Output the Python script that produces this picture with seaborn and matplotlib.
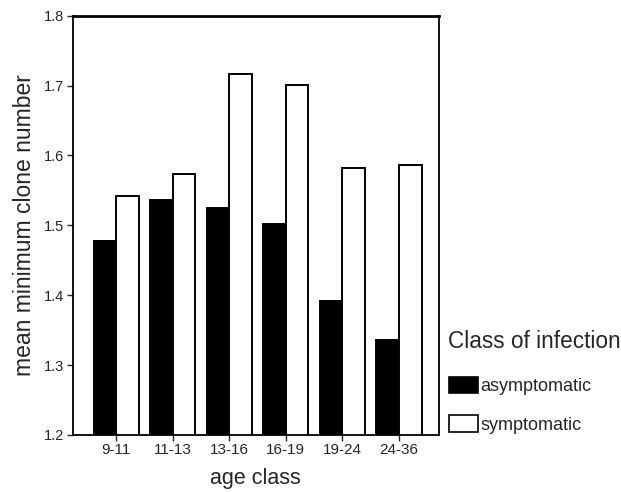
import numpy as np
import pandas as pd
import matplotlib
matplotlib.use("Agg")
import matplotlib.pyplot as plt
import seaborn as sns

# values
age_classes = ['9-11', '11-13', '13-16', '16-19', '19-24', '24-36']
asymptomatic = [1.478, 1.536, 1.525, 1.502, 1.391, 1.336]
symptomatic = [1.542, 1.573, 1.716, 1.701, 1.582, 1.587]
infection_classes = ['asymptomatic', 'symptomatic']

df = pd.DataFrame({
    'age class': age_classes * 2,
    'clones': asymptomatic + symptomatic,
    'infection': ['asymptomatic'] * 6 + ['symptomatic'] * 6,
})

sns.set_style("white")
plt.rcParams['font.family'] = ['Liberation Sans', 'DejaVu Sans']

fig = plt.figure(figsize=(6.21, 4.92), dpi=100)
ax = fig.add_axes([0.117, 0.116, 0.590, 0.852])

sns.barplot(data=df, x='age class', y='clones', hue='infection',
            hue_order=infection_classes, palette=['black', 'white'],
            edgecolor='black', linewidth=1.4, width=0.8, saturation=1,
            ax=ax, legend=False)

ax.set_ylim(1.2, 1.8)
ax.set_xlim(-0.77, 5.71)
yt = np.arange(1.2, 1.81, 0.1)
ax.set_yticks(yt)
ax.set_yticklabels([f'{v:.1f}' for v in yt], fontsize=10.5)
ax.tick_params(axis='x', labelsize=11, length=4, width=1, direction='out', bottom=True, pad=2)
ax.tick_params(axis='y', length=4, width=1, direction='out', left=True, pad=2)
ax.set_xlabel('age class', fontsize=15.5, labelpad=8)
ax.set_ylabel('mean minimum clone number', fontsize=16.5, labelpad=6)

for side in ['left', 'bottom', 'right']:
    ax.spines[side].set_color('black')
    ax.spines[side].set_linewidth(1.3)
ax.spines['top'].set_color('black')
ax.spines['top'].set_linewidth(2)

# legend title as separate text so the gap below it can match
fig.text(448 / 621, 1 - 341 / 492, 'Class of infection', fontsize=16.3,
         ha='left', va='center')
handles = [matplotlib.patches.Patch(facecolor=c, edgecolor='black', linewidth=1.2)
           for c in ['black', 'white']]
leg = fig.legend(handles, infection_classes,
                 loc='upper left', bbox_to_anchor=(449 / 621, 1 - 377 / 492),
                 frameon=False, fontsize=13, borderpad=0, borderaxespad=0,
                 handlelength=1.6, handleheight=1.0, handletextpad=0.15,
                 labelspacing=1.12)

fig.savefig('out.png', dpi=100)
